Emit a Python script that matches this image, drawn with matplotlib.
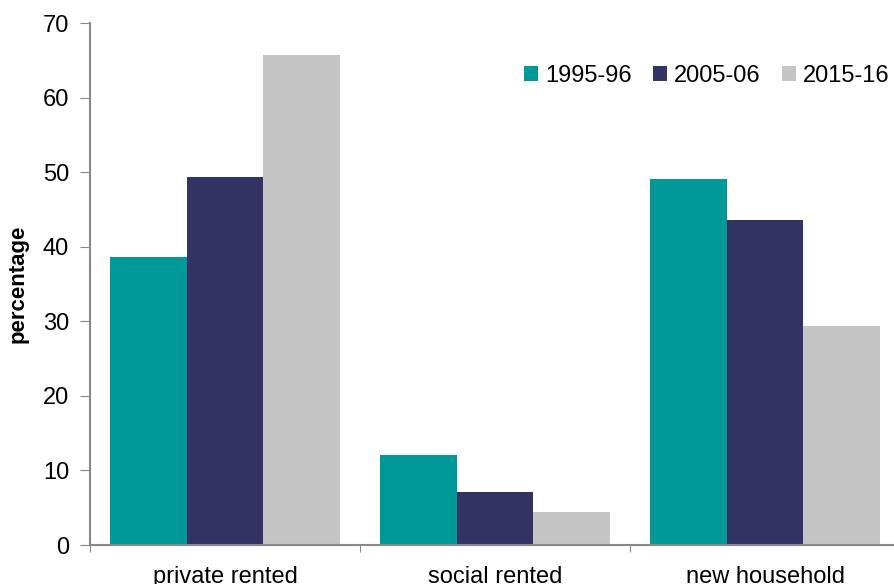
import matplotlib.pyplot as plt
import numpy as np

plt.rcParams.update({'font.family': 'Liberation Sans', 'font.size': 17})

categories = ["private rented", "social rented", "new household"]
years = ["1995-96", "2005-06", "2015-16"]
v1995 = [38.6, 12.1, 49.1]
v2005 = [49.3, 7.1, 43.6]
v2015 = [65.7, 4.4, 29.4]
colors = ["#009999", "#333366", "#C5C5C5"]

fig = plt.figure(figsize=(8.94, 5.84), dpi=100)
ax = fig.add_axes([90 / 894, 39 / 584, 810 / 894, 522 / 584])

x = np.arange(len(categories))
w = 0.285
for i, (vals, lab) in enumerate(zip([v1995, v2005, v2015], years)):
    ax.bar(x + (i - 1) * w, vals, w, color=colors[i], label=lab)

ax.set_xlim(-0.5, 2.5)
ax.set_ylim(0, 70)
ax.set_yticks(range(0, 71, 10))
ax.set_xticks([-0.5, 0.5, 1.5, 2.5])
ax.set_xticklabels([])
ax.set_xticks(x, minor=True)
ax.set_xticklabels(categories, minor=True)
ax.tick_params(axis='x', which='minor', length=0, pad=15)
ax.tick_params(axis='x', which='major', length=5, color='#888888', direction='out')
ax.tick_params(axis='y', length=7, color='#888888', pad=8)

for s in ['top', 'right']:
    ax.spines[s].set_visible(False)
for s in ['left', 'bottom']:
    ax.spines[s].set_color('#888888')
    ax.spines[s].set_linewidth(1.5)

ax.set_ylabel("percentage", fontweight='bold', fontsize=16, labelpad=10)

ax.legend(loc='center right', bbox_to_anchor=(890 / 894, 1 - 76 / 584), bbox_transform=fig.transFigure,
          ncol=3, frameon=False, handlelength=0.6, handleheight=0.6,
          handletextpad=0.3, columnspacing=0.9, fontsize=17, borderaxespad=0, borderpad=0)

fig.savefig("out.png", dpi=100)
